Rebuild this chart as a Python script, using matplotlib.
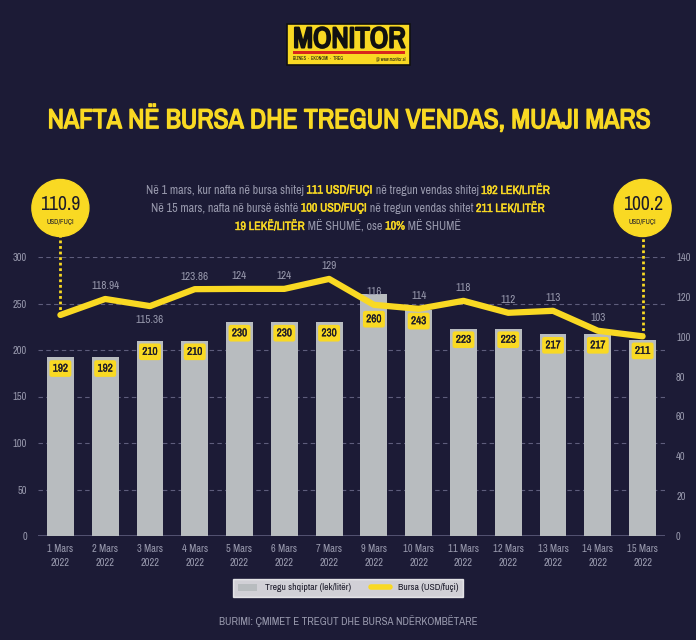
import matplotlib
matplotlib.use("Agg")
import matplotlib.pyplot as plt
import matplotlib.patheffects as pe
from matplotlib import font_manager as fm
from matplotlib.patches import Rectangle, Ellipse
from matplotlib.lines import Line2D

# data
dates = ["1 Mars", "2 Mars", "3 Mars", "4 Mars", "5 Mars", "6 Mars", "7 Mars",
         "9 Mars", "10 Mars", "11 Mars", "12 Mars", "13 Mars", "14 Mars", "15 Mars"]
year = "2022"
tregu = [192, 192, 210, 210, 230, 230, 230, 260, 243, 223, 223, 217, 217, 211]
bursa = [110.9, 118.94, 115.36, 123.86, 124, 124, 129, 116, 114, 118, 112, 113, 103, 100.2]
bursa_text = ["", "118.94", "115.36", "123.86", "124", "124", "129",
              "116", "114", "118", "112", "113", "103", ""]

BG = "#1c1b36"
YEL = "#f9d923"
GRAY = "#b8bcbf"
TXT = "#9899ad"
DARK = "#1c1b2a"

# look for a narrow face, fall back to DejaVu
found = sorted({(f.name, f.stretch) for f in fm.fontManager.ttflist})
narrow = [n for n, s in found if "Narrow" in n or "Condensed" in n or s in ("condensed", "semi-condensed")]
FONT = narrow[0] if narrow else "DejaVu Sans"
plt.rcParams["font.family"] = [FONT, "DejaVu Sans"]
plt.rcParams["font.stretch"] = "condensed"
bold_file = fm.findfont(fm.FontProperties(family=FONT, weight="bold", stretch="condensed"))
HAS_BOLD = "bold" in bold_file.lower()

W, H = 696, 640
fig = plt.figure(figsize=(W / 100, H / 100), dpi=100, facecolor=BG)
rend = fig.canvas.get_renderer()


def fx(px):
    return px / W


def fy(py):
    return 1 - py / H


def fit(t, target_px):
    w = t.get_window_extent(rend).width
    t.set_fontsize(t.get_fontsize() * target_px / w)


def thicken(t, lw):
    # fake bold when the narrow face has no bold file
    if not HAS_BOLD:
        t.set_path_effects([pe.withStroke(linewidth=lw, foreground=t.get_color())])


ax = fig.add_axes([fx(38), fy(536), fx(665) - fx(38), (536 - 257) / H])
ax.set_facecolor("none")
ax2 = ax.twinx()

x = list(range(len(dates)))
ax.bar(x, tregu, width=0.6, color=GRAY, zorder=2)
ax.set_xlim(-0.5, 13.5)
ax.set_ylim(0, 300)
ax.set_yticks(range(0, 301, 50))
ax.grid(axis="y", ls=(0, (4, 3)), color="#5e5d7c", lw=0.8, zorder=0)
ax.axhline(0, color="#5e5d7c", lw=1.2, zorder=1)
ax.set_xticks(x)
ax.set_xticklabels([f"{d}\n{year}" for d in dates], fontsize=7.5, color=TXT, linespacing=1.5)
ax.tick_params(axis="both", length=0, labelsize=7.5, labelcolor=TXT)
ax.tick_params(axis="y", pad=8)
ax.tick_params(axis="x", pad=6)

ax2.set_ylim(0, 140)
ax2.set_yticks(range(0, 141, 20))
ax2.tick_params(axis="y", length=0, labelsize=7.5, labelcolor=TXT, pad=8)
for a in (ax, ax2):
    for s in a.spines.values():
        s.set_visible(False)

ax2.plot(x, bursa, color=YEL, lw=4.5, solid_joinstyle="round", solid_capstyle="round", zorder=3)

# labels on the line
for i, t in enumerate(bursa_text):
    if not t:
        continue
    off = -10 if i == 2 else 9
    ax2.annotate(t, (i, bursa[i]), xytext=(0, off), textcoords="offset points",
                 ha="center", va="center", fontsize=8, color=TXT)

# bar value boxes
for i, v in enumerate(tregu):
    off = -18 if i == 7 else -8
    a = ax2.annotate(str(v), (i, v), xycoords=ax.transData, xytext=(0, off),
                     textcoords="offset points", ha="center", va="center",
                     fontsize=8, color=DARK, fontweight="bold", zorder=5,
                     bbox=dict(boxstyle="round,pad=0.3,rounding_size=0.2", fc=YEL, ec="none"))
    thicken(a, 0.2)

# circles with dotted leaders
fig.canvas.draw()
inv = fig.transFigure.inverted()
for i, top in ((0, "110.9"), (13, "100.2")):
    ax2.plot([i, i], [bursa[i], 160], color=YEL, lw=2, ls=(0, (1, 1)), clip_on=False, zorder=4)
    cx = inv.transform(ax.transData.transform((i, 0)))[0]
    cy = fy(208)
    fig.add_artist(Ellipse((cx, cy), 57 / W, 57 / H, color=YEL, transform=fig.transFigure, zorder=6))
    t = fig.text(cx, cy + 4 / H, top, ha="center", va="center", fontsize=16, color=DARK, zorder=7)
    fit(t, 40)
    t = fig.text(cx, cy - 14 / H, "USD/FUÇI", ha="center", va="center", fontsize=6, color=DARK,
                 fontweight="bold", zorder=7)
    fit(t, 28)

# title
t = fig.text(0.5, fy(119), "NAFTA NË BURSA DHE TREGUN VENDAS, MUAJI MARS", ha="center", va="center",
             fontsize=22, fontweight="bold", color=YEL)
thicken(t, 1.0)
fit(t, 603)

# subtitle with mixed styles
sub = [
    [("Në 1 mars, kur nafta në bursa shitej ", False), ("111 USD/FUÇI", True),
     (" në tregun vendas shitej ", False), ("192 LEK/LITËR", True)],
    [("Në 15 mars, nafta në bursë është ", False), ("100 USD/FUÇI", True),
     (" në tregun vendas shitet ", False), ("211 LEK/LITËR", True)],
    [("19 LEKË/LITËR", True), (" MË SHUMË, ose ", False), ("10%", True), (" MË SHUMË", False)],
]
rows = []
for row, py in zip(sub, (190, 208, 226)):
    items = []
    for s, b in row:
        t = fig.text(0, fy(py), s, ha="left", va="center", fontsize=8.5,
                     color=YEL if b else TXT, fontweight="bold" if b else "normal")
        if b:
            thicken(t, 0.3)
        items.append(t)
    rows.append(items)
w0 = sum(t.get_window_extent(rend).width for t in rows[0])
scale = 407 / w0
for items in rows:
    for t in items:
        t.set_fontsize(t.get_fontsize() * scale)
    widths = [t.get_window_extent(rend).width / W for t in items]
    start = 0.5 - sum(widths) / 2
    for t, w in zip(items, widths):
        t.set_x(start)
        start += w

# logo
fig.add_artist(Rectangle((fx(287), fy(65)), fx(410) - fx(287), (65 - 24) / H,
                         transform=fig.transFigure, fc=YEL, ec="#111111", lw=1.2))
t = fig.text(fx(349), fy(39), "MONITOR", ha="center", va="center", fontsize=17,
             fontweight="heavy", color="#111111")
thicken(t, 1.5)
fit(t, 112)
fig.add_artist(Rectangle((fx(293), fy(54)), fx(405) - fx(293), 3 / H,
                         transform=fig.transFigure, fc="#d9261c", ec="none"))
fig.text(fx(293), fy(59), "BIZNES  ·  EKONOMI  ·  TREG", ha="left", va="center", fontsize=3.2, color="#111111")
fig.text(fx(405), fy(59), "@ www.monitor.al", ha="right", va="center", fontsize=3.2, color="#111111")

# legend
handles = [Rectangle((0, 0), 1, 1, fc=GRAY, ec="none"),
           Line2D([], [], color=YEL, lw=4, solid_capstyle="round")]
leg = fig.legend(handles, ["Tregu shqiptar (lek/litër)", "Bursa (USD/fuçi)"],
                 loc="center", bbox_to_anchor=(fx(348), fy(588)), ncol=2, frameon=True,
                 fontsize=7, fancybox=False, handlelength=2.0, handleheight=0.7,
                 columnspacing=2.0, borderpad=0.5, handletextpad=0.8)
leg.get_frame().set_facecolor("white")
leg.get_frame().set_edgecolor("white")
for t in leg.get_texts():
    t.set_color(DARK)

t = fig.text(0.5, fy(621), "BURIMI: ÇMIMET E TREGUT DHE BURSA NDËRKOMBËTARE", ha="center", va="center",
             fontsize=7, color=TXT)
fit(t, 258)

fig.savefig("out.png", dpi=100, facecolor=BG)
